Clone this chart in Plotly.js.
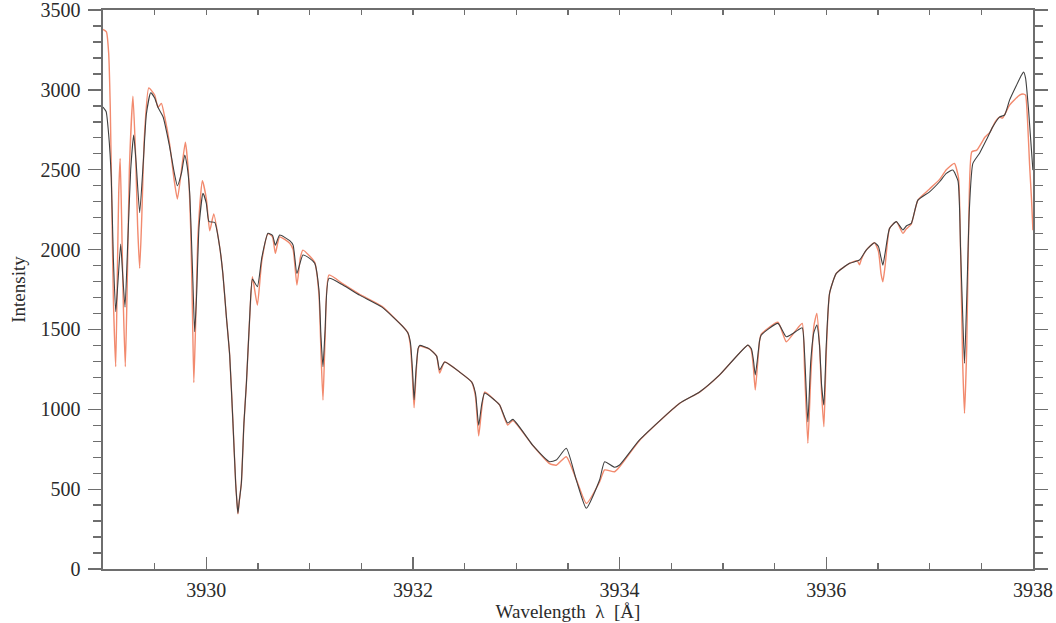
<!DOCTYPE html>
<html>
<head>
<meta charset="utf-8">
<script src="https://cdn.plot.ly/plotly-3.0.1.min.js"></script>
<style>html,body{margin:0;padding:0;background:#fff}#chart{width:1056px;height:623px}</style>
</head>
<body>
<div id="chart"></div>
<script>
// Observed spectrum (black)
const obsWavelength = [
3929.000,3929.030,3929.055,3929.080,3929.100,3929.123,3929.145,3929.171,3929.190,3929.213,
3929.240,3929.268,3929.297,3929.320,3929.355,3929.390,3929.420,3929.462,3929.500,3929.532,
3929.581,3929.645,3929.690,3929.720,3929.760,3929.791,3929.815,3929.839,3929.870,3929.887,
3929.905,3929.930,3929.968,3930.000,3930.026,3930.081,3930.129,3930.160,3930.194,3930.226,
3930.258,3930.284,3930.296,3930.306,3930.318,3930.339,3930.364,3930.388,3930.420,3930.446,
3930.494,3930.537,3930.597,
3930.640,3930.668,3930.710,3930.807,3930.840,3930.877,3930.935,3931.000,3931.049,3931.090,
3931.110,3931.129,3931.150,3931.187,3931.322,3931.484,3931.700,3931.900,3931.950,3931.975,
3931.995,3932.011,3932.030,3932.050,3932.065,3932.161,3932.229,3932.258,3932.307,3932.452,
3932.568,3932.605,3932.636,3932.665,3932.694,3932.790,3932.839,3932.916,3932.967,3933.158,
3933.322,3933.387,3933.484,3933.581,3933.678,3933.806,3933.855,3933.952,3934.000,3934.193,
3934.580,3934.774,3934.968,3935.242,3935.275,3935.295,3935.313,3935.335,3935.355,3935.371,
3935.532,3935.613,3935.677,3935.725,3935.768,3935.790,3935.822,3935.850,3935.880,3935.909,
3935.935,3935.955,3935.977,3936.000,3936.032,3936.097,3936.225,3936.322,3936.387,3936.467,
3936.505,3936.530,3936.548,3936.570,3936.613,3936.678,3936.742,3936.775,3936.823,3936.887,
3937.000,3937.097,3937.162,3937.225,3937.275,3937.300,3937.320,3937.338,3937.360,3937.385,
3937.419,3937.484,3937.549,3937.610,3937.677,3937.726,3937.774,3937.842,3937.890,3937.910,
3937.929,3937.958,3938.000];
const obsIntensity = [
2893,2865,2720,2450,1950,1611,1800,2035,1850,1640,
2050,2500,2717,2550,2231,2550,2850,2982,2950,2891,
2832,2644,2480,2400,2480,2592,2520,2354,1800,1486,
1700,2150,2352,2290,2175,2171,2018,1850,1580,1340,
912,537,420,349,420,537,912,1163,1580,1815,
1768,1950,2102,
2090,2028,2091,2056,2028,1851,1966,1945,1914,1747,
1450,1267,1500,1820,1778,1715,1640,1520,1480,1420,
1250,1060,1250,1380,1400,1377,1333,1246,1296,1233,
1171,1100,900,1030,1102,1058,1027,914,937,776,
672,682,756,557,380,557,672,637,651,808,
1037,1108,1215,1402,1380,1310,1215,1320,1430,1465,
1538,1454,1475,1496,1510,1350,922,1300,1480,1528,
1400,1150,1027,1400,1726,1851,1914,1935,1997,2043,
2020,1950,1903,1980,2133,2175,2123,2148,2164,2310,
2362,2425,2477,2498,2430,2000,1600,1288,1700,2250,
2540,2604,2686,2767,2830,2843,2936,3030,3093,3112,
3074,2874,2498];

// Model spectrum (red)
const modelWavelength = [
3929.000,3929.033,3929.055,3929.070,3929.085,3929.100,3929.123,3929.140,3929.152,3929.166,
3929.180,3929.195,3929.216,3929.235,3929.255,3929.290,3929.315,3929.335,3929.355,3929.375,
3929.400,3929.443,3929.500,3929.532,3929.565,3929.597,3929.645,3929.690,3929.720,3929.760,
3929.797,3929.825,3929.850,3929.866,3929.879,3929.895,3929.920,3929.962,3930.000,3930.033,
3930.072,3930.129,3930.160,3930.194,3930.226,3930.258,3930.284,3930.296,3930.306,3930.318,
3930.339,3930.364,3930.388,3930.420,3930.446,3930.494,3930.537,3930.597,3930.640,3930.668,
3930.710,3930.807,3930.840,
3930.877,3930.910,3930.935,3931.000,3931.049,3931.090,3931.110,3931.129,3931.150,3931.187,
3931.322,3931.484,3931.700,3931.900,3931.950,3931.975,3931.995,3932.011,3932.030,3932.050,
3932.065,3932.161,3932.229,3932.258,3932.307,3932.452,3932.568,3932.605,3932.636,3932.665,
3932.694,3932.790,3932.839,3932.916,3932.967,3933.158,3933.322,3933.387,3933.484,3933.581,
3933.678,3933.806,3933.855,3933.952,3934.000,3934.193,3934.580,3934.774,3934.968,3935.242,
3935.275,3935.295,3935.313,3935.335,3935.355,3935.371,3935.532,3935.613,3935.677,3935.725,
3935.768,3935.790,3935.822,3935.850,3935.880,3935.909,3935.935,3935.955,3935.977,3936.000,
3936.032,3936.097,3936.225,3936.300,3936.322,3936.340,3936.387,3936.467,3936.505,3936.530,
3936.548,3936.570,3936.613,3936.678,3936.742,3936.775,3936.823,3936.887,3937.000,3937.097,
3937.162,3937.240,3937.280,3937.300,3937.320,3937.338,3937.360,3937.380,3937.409,3937.457,
3937.537,3937.585,3937.634,3937.677,3937.706,3937.774,3937.871,3937.910,3937.929,3937.948,
3937.968,3937.987,3938.000];
const modelIntensity = [
3379,3364,3229,2900,2300,1700,1267,1900,2350,2571,
2200,1700,1267,1800,2500,2961,2600,2150,1883,2200,
2700,3013,2968,2891,2916,2832,2660,2430,2317,2500,
2672,2500,2100,1600,1167,1500,2100,2431,2320,2118,
2223,2018,1850,1580,1340,912,537,420,345,420,
537,912,1163,1580,1830,1653,1930,2100,2080,1977,
2080,2040,2000,
1778,1950,1997,1960,1920,1720,1350,1058,1450,1841,
1785,1720,1645,1520,1480,1400,1200,1010,1220,1380,
1395,1377,1333,1227,1296,1233,1171,1080,833,1000,
1108,1058,1027,902,930,775,660,650,703,560,
411,545,620,609,640,805,1037,1108,1215,1402,
1370,1260,1121,1280,1430,1470,1545,1423,1470,1510,
1538,1250,787,1200,1520,1601,1400,1100,891,1350,
1726,1851,1914,1930,1905,1940,1997,2043,1990,1850,
1799,1900,2133,2175,2102,2130,2160,2310,2380,2440,
2500,2540,2450,2000,1300,975,1400,2200,2613,2623,
2705,2736,2799,2830,2824,2905,2968,2974,2968,2811,
2530,2310,2122];

const xTickVals = [3930, 3932, 3934, 3936, 3938];
const yTickVals = [0, 500, 1000, 1500, 2000, 2500, 3000, 3500];

const axisColor = '#6e6e6e';
const textColor = '#2b2b2b';
const serif = 'Liberation Serif, Times New Roman, serif';

const traces = [
  {x: modelWavelength, y: modelIntensity, type: 'scatter', mode: 'lines',
   line: {color: '#f28a6e', width: 1.4, shape: 'spline', smoothing: 0.5}, hoverinfo: 'skip'},
  {x: obsWavelength, y: obsIntensity, type: 'scatter', mode: 'lines',
   line: {color: '#404040', width: 1.1, shape: 'spline', smoothing: 0.5}, hoverinfo: 'skip'},
  {x: [], y: [], xaxis: 'x2', yaxis: 'y2', type: 'scatter', mode: 'lines', showlegend: false}
];

const layout = {
  width: 1056, height: 623,
  margin: {l: 103, r: 23, t: 10, b: 54},
  paper_bgcolor: '#fff', plot_bgcolor: '#fff',
  showlegend: false,
  font: {family: serif, color: textColor, size: 20},
  xaxis: {
    range: [3929, 3938.001], tickvals: xTickVals, ticktext: xTickVals.map(String),
    ticks: 'inside', ticklen: 12, tickwidth: 1.3, tickcolor: axisColor,
    showline: true, linecolor: axisColor, linewidth: 1.6,
    showgrid: false, zeroline: false, ticklabeloverflow: 'allow',
    minor: {dtick: 0.5, tick0: 3929, ticks: 'inside', ticklen: 6, tickwidth: 1.3, tickcolor: axisColor, showgrid: false},
    tickfont: {family: serif, size: 20, color: textColor},
    ticklabelstandoff: 2,
    title: {text: 'Wavelength  λ  [Å]', font: {family: serif, size: 19, color: textColor}, standoff: 2}
  },
  xaxis2: {
    range: [3929, 3938.001], overlaying: 'x', side: 'top', anchor: 'y',
    dtick: 0.5, tick0: 3929, ticks: 'inside', ticklen: 5, tickwidth: 1.3, tickcolor: axisColor,
    showticklabels: false, showline: true, linecolor: axisColor, linewidth: 1.6,
    showgrid: false, zeroline: false
  },
  yaxis: {
    range: [0, 3500.5], tickvals: yTickVals, ticktext: yTickVals.map(String),
    ticks: 'outside', ticklen: 13, tickwidth: 1.3, tickcolor: axisColor,
    showline: true, linecolor: axisColor, linewidth: 1.6,
    showgrid: false, zeroline: false, ticklabeloverflow: 'allow',
    minor: {dtick: 100, tick0: 0, ticks: 'outside', ticklen: 8, tickwidth: 1.3, tickcolor: axisColor, showgrid: false},
    tickfont: {family: serif, size: 20, color: textColor},
    ticklabelstandoff: 4,
    title: {text: 'Intensity', font: {family: serif, size: 19, color: textColor}, standoff: 10}
  },
  yaxis2: {
    range: [0, 3500.5], overlaying: 'y', side: 'right', anchor: 'x',
    dtick: 500, ticks: 'outside', ticklen: 13, tickwidth: 1.3, tickcolor: axisColor,
    minor: {dtick: 100, ticks: 'outside', ticklen: 8, tickwidth: 1.3, tickcolor: axisColor, showgrid: false},
    showticklabels: false, showline: true, linecolor: axisColor, linewidth: 1.6,
    showgrid: false, zeroline: false
  }
};

Plotly.newPlot('chart', traces, layout, {staticPlot: true, displayModeBar: false});
</script>
</body>
</html>
